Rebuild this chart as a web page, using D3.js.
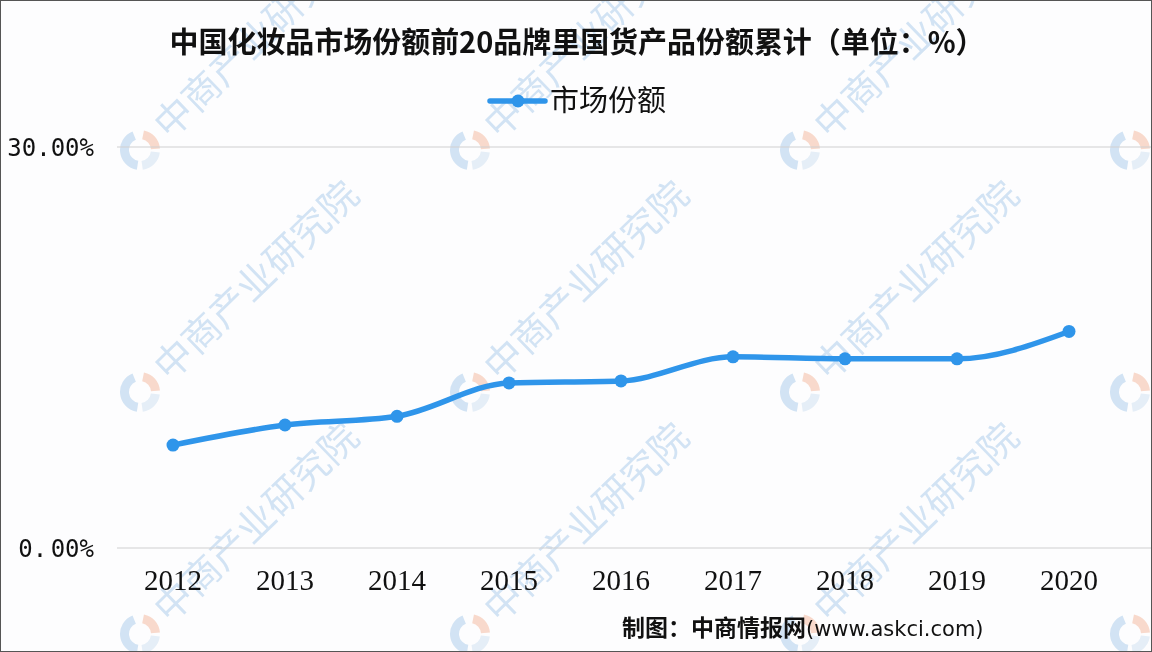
<!DOCTYPE html>
<meta charset="utf-8">
<style>
body { margin: 0; background: #fff; }
svg { display: block; }
.grid line { stroke: #d0d0d0; stroke-width: 1.2px; }
.wm text { font-family: "Noto Sans CJK SC", sans-serif; font-size: 38px; fill: #bcd6ee; }
</style>
<body>
<svg width="1152" height="652"></svg>
<script src="https://d3js.org/d3.v7.min.js"></script>
<script>
// data
var years = ["2012","2013","2014","2015","2016","2017","2018","2019","2020"];
var share = [7.7, 9.2, 9.85, 12.35, 12.5, 14.3, 14.15, 14.15, 16.2];
var yTicks = [0, 30];
var yTickLabels = ["0. 00%", "30.00%"];
var title = "中国化妆品市场份额前20品牌里国货产品份额累计（单位：%）";
var seriesName = "市场份额";

var svg = d3.select("svg"),
    width = 1152,
    height = 652,
    blue = "#2f95ea";

svg.append("rect").attr("width", width).attr("height", height).attr("fill", "#fdfdfe");

// watermark
var wm = svg.append("g").attr("class", "wm").attr("opacity", 0.65);
[140, 470, 800, 1130].forEach(function(cx) {
  [150, 392, 634].forEach(function(cy) {
    var g = wm.append("g").attr("transform", "translate(" + cx + "," + cy + ")");
    var arc = d3.arc().innerRadius(11).outerRadius(20);
    g.append("path").attr("d", arc({startAngle: 0.2, endAngle: 1.5})).attr("fill", "#f6c6b0");
    g.append("path").attr("d", arc({startAngle: 1.7, endAngle: 3.0})).attr("fill", "#d8e6f3");
    g.append("path").attr("d", arc({startAngle: 3.3, endAngle: 5.9})).attr("fill", "#bcd6ee");
    if (cx < 1100) {
      g.append("text").attr("x", 28).attr("y", 14)
        .attr("transform", "rotate(-44)")
        .text("中商产业研究院");
    }
  });
});

var x = d3.scaleBand().domain(years).range([117, 1125]);
var y = d3.scaleLinear().domain([0, 30]).range([548, 147]);

// grid
svg.append("g").attr("class", "grid")
  .selectAll("line").data(yTicks).enter().append("line")
  .attr("x1", 117).attr("x2", width)
  .attr("y1", function(d) { return y(d); })
  .attr("y2", function(d) { return y(d); });

// y labels
svg.append("g").selectAll("text").data(yTicks).enter().append("text")
  .attr("x", 94).attr("y", function(d) { return y(d); })
  .attr("dy", "0.36em")
  .attr("text-anchor", "end")
  .style("font-family", "DejaVu Sans Mono, monospace")
  .style("font-size", "24px")
  .style("word-spacing", "-11px")
  .attr("fill", "#111")
  .text(function(d, i) { return yTickLabels[i]; });

// x labels
svg.append("g").selectAll("text").data(years).enter().append("text")
  .attr("x", function(d) { return x(d) + x.bandwidth() / 2; })
  .attr("y", 590)
  .attr("text-anchor", "middle")
  .style("font-family", "Liberation Serif, serif")
  .style("font-size", "29px")
  .attr("fill", "#111")
  .text(function(d) { return d; });

// line
var line = d3.line()
  .x(function(d, i) { return x(years[i]) + x.bandwidth() / 2; })
  .y(function(d) { return y(d); })
  .curve(d3.curveMonotoneX);

svg.append("path").datum(share)
  .attr("d", line)
  .attr("fill", "none")
  .attr("stroke", blue)
  .attr("stroke-width", 5.5)
  .attr("stroke-linecap", "round");

svg.append("g").selectAll("circle").data(share).enter().append("circle")
  .attr("cx", function(d, i) { return x(years[i]) + x.bandwidth() / 2; })
  .attr("cy", function(d) { return y(d); })
  .attr("r", 6.5)
  .attr("fill", blue);

// title
svg.append("text")
  .attr("x", 577).attr("y", 53)
  .attr("text-anchor", "middle")
  .attr("textLength", 815)
  .attr("lengthAdjust", "spacingAndGlyphs")
  .style("font-family", "Noto Sans CJK SC, sans-serif")
  .style("font-weight", "bold")
  .style("font-size", "29px")
  .attr("fill", "#111")
  .text(title);

// legend
svg.append("line").attr("x1", 490).attr("x2", 545).attr("y1", 101).attr("y2", 101)
  .attr("stroke", blue).attr("stroke-width", 5.5).attr("stroke-linecap", "round");
svg.append("circle").attr("cx", 518).attr("cy", 101).attr("r", 6.5).attr("fill", blue);
svg.append("text").attr("x", 550).attr("y", 111)
  .style("font-family", "Noto Sans CJK SC, sans-serif")
  .style("font-size", "29px")
  .attr("fill", "#111")
  .text(seriesName);

// source
var src = svg.append("text").attr("x", 622).attr("y", 636)
  .style("font-family", "Noto Sans CJK SC, sans-serif")
  .style("font-size", "23px")
  .attr("fill", "#111");
src.append("tspan").style("font-weight", "bold").text("制图：中商情报网");
src.append("tspan").style("font-family", "DejaVu Sans, sans-serif").style("font-size", "21px").text("(www.askci.com)");

// frame
svg.append("rect").attr("x", 0.5).attr("y", 0.5).attr("width", width - 1).attr("height", height - 1)
  .attr("fill", "none").attr("stroke", "#555").attr("stroke-width", 1);
</script>
</body>
